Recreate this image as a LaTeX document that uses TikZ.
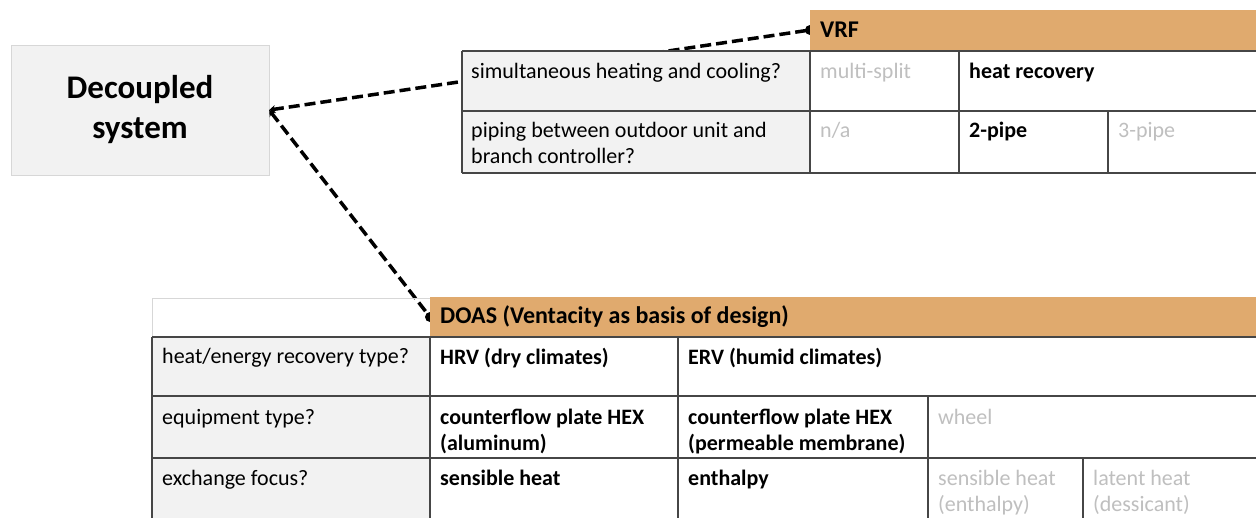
\documentclass[tikz,border=0pt]{standalone}
\usepackage{fontspec}
\setmainfont{Carlito}
\usetikzlibrary{arrows.meta}
\definecolor{hdrorange}{RGB}{224,170,110}
\definecolor{cellgray}{RGB}{242,242,242}
\definecolor{fadedtext}{RGB}{191,191,191}
\definecolor{gridline}{RGB}{70,70,70}
\definecolor{softedge}{RGB}{215,215,215}

\begin{document}
\begin{tikzpicture}[x=1pt, y=-1pt,
        txt/.style={anchor=north west, inner sep=0pt, align=left, font=\fontsize{22}{26}\selectfont},
        boldtxt/.style={txt, font=\fontsize{22}{26}\selectfont\bfseries},
        faded/.style={txt, text=fadedtext},
        header/.style={anchor=west, inner sep=0pt, font=\fontsize{24}{28}\selectfont\bfseries},
        link/.style={line width=3.5pt, dash pattern=on 11pt off 5pt, {Stealth[length=6pt,width=8pt]}-},
        grid/.style={draw=gridline, line width=1.4pt}]

    \useasboundingbox (0,0) rectangle (1256,517);

    % system box
    \node[fill=cellgray, draw=softedge, minimum width=258, minimum height=130, inner sep=0pt,
          align=center, font=\fontsize{33}{40}\selectfont\bfseries]
        (dec) at (140,110) {Decoupled\\system};

    \coordinate (vrfdot) at (810,30);
    \coordinate (doasdot) at (430,317);

    % links to the two tables
    \draw[link] (dec.east) -- (vrfdot);
    \draw[link] (dec.east) -- (doasdot);
    \fill (vrfdot) circle (5);
    \fill (doasdot) circle (5);

    % VRF table
    \fill[hdrorange] (810,10) rectangle (1262,51);
    \fill[cellgray] (462,51) rectangle (810,173);
    \fill[white] (810,51) rectangle (1262,173);
    \draw[grid] (462,51) -- (1262,51);
    \draw[grid] (462,111) -- (1262,111);
    \draw[grid] (462,173) -- (1262,173);
    \draw[grid] (462,51) -- (462,173);
    \draw[grid] (810,51) -- (810,173);
    \draw[grid] (959,51) -- (959,173);
    \draw[grid] (1108,111) -- (1108,173);

    \node[header] (vrf) at (820,30) {VRF};
    \node[txt] (simul) at (471,63) {simultaneous heating and cooling?};
    \node[faded] (multi) at (820,63) {multi-split};
    \node[boldtxt] (hrec) at (969,63) {heat recovery};
    \node[txt] (piping) at (471,122) {piping between outdoor unit and\\branch controller?};
    \node[faded] (na) at (820,122) {n/a};
    \node[boldtxt] (twopipe) at (969,122) {2-pipe};
    \node[faded] (threepipe) at (1118,122) {3-pipe};

    % DOAS table
    \draw[softedge, line width=0.8pt] (152,298) rectangle (430,337);
    \fill[hdrorange] (430,297) rectangle (1262,337);
    \fill[cellgray] (152,337) rectangle (430,525);
    \fill[white] (430,337) rectangle (1262,525);
    \draw[grid] (152,337) -- (1262,337);
    \draw[grid] (152,396) -- (1262,396);
    \draw[grid] (152,458) -- (1262,458);
    \draw[grid] (152,337) -- (152,525);
    \draw[grid] (430,337) -- (430,525);
    \draw[grid] (678,337) -- (678,525);
    \draw[grid] (928,396) -- (928,525);
    \draw[grid] (1083,458) -- (1083,525);

    \node[header] (doas) at (440,317) {DOAS (Ventacity as basis of design)};
    \node[txt] (rectype) at (162,348) {heat/energy recovery type?};
    \node[boldtxt] (hrv) at (440,348) {HRV (dry climates)};
    \node[boldtxt] (erv) at (688,348) {ERV (humid climates)};
    \node[txt] (equip) at (162,409) {equipment type?};
    \node[boldtxt] (alu) at (440,409) {counterflow plate HEX\\(aluminum)};
    \node[boldtxt] (memb) at (688,409) {counterflow plate HEX\\(permeable membrane)};
    \node[faded] (wheel) at (938,409) {wheel};
    \node[txt] (focus) at (162,470) {exchange focus?};
    \node[boldtxt] (sens) at (440,470) {sensible heat};
    \node[boldtxt] (enth) at (688,470) {enthalpy};
    \node[faded] (sensenth) at (938,470) {sensible heat\\(enthalpy)};
    \node[faded] (latent) at (1093,470) {latent heat\\(dessicant)};
\end{tikzpicture}
\end{document}
